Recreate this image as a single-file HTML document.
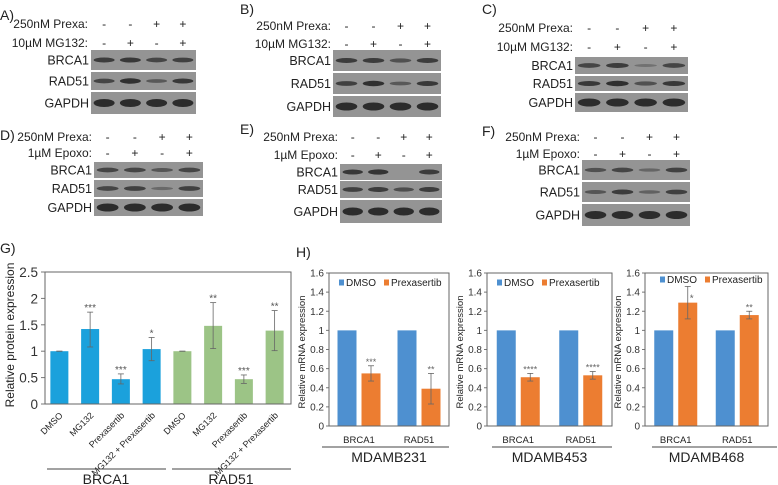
<!DOCTYPE html>
<html><head><meta charset="utf-8"><style>
body{margin:0;background:#fff;}
svg{display:block;font-family:"Liberation Sans",Arial,sans-serif;}
</style></head><body>
<svg id="fig" width="778" height="485" viewBox="0 0 778 485">
<g id="blots"></g>
<g id="gchart"></g>
<g id="hchart"></g>
</svg>
<script>
// ---- Panel G data ----
const gCategories = ["DMSO","MG132","Prexasertib","MG132 + Prexasertib","DMSO","MG132","Prexasertib","MG132 + Prexasertib"];
const gValues = [1, 1.42, 0.47, 1.04, 1, 1.48, 0.47, 1.39];
const gErrHigh = [1.0, 1.74, 0.57, 1.26, 1.0, 1.92, 0.55, 1.77];
const gErrLow = [1.0, 1.08, 0.38, 0.82, 1.0, 1.05, 0.39, 1.01];
const gStars = ["", "***", "***", "*", "", "**", "***", "**"];
const gTicks = [0, 0.5, 1, 1.5, 2, 2.5];
const gTickLabels = ["0","0.5","1","1.5","2","2.5"];
// ---- Panel H data ----
const hLines = ["MDAMB231","MDAMB453","MDAMB468"];
const hGenes = ["BRCA1","RAD51"];
const hSeries = ["DMSO","Prexasertib"];
const hDmso = [[1,1],[1,1],[1,1]];
const hPrex = [[0.55,0.39],[0.51,0.53],[1.29,1.16]];
const hPrexLow = [[0.47,0.23],[0.47,0.49],[1.12,1.12]];
const hPrexHigh = [[0.63,0.55],[0.55,0.57],[1.46,1.20]];
const hStars = [["***","**"],["****","****"],["*","**"]];
const hTicks = [0,0.2,0.4,0.6,0.8,1,1.2,1.4,1.6];
const hTickLabels = ["0","0.2","0.4","0.6","0.8","1","1.2","1.4","1.6"];

const NS="http://www.w3.org/2000/svg";
function mk(parent,tag,attrs,text){const e=document.createElementNS(NS,tag);for(const k in attrs)e.setAttribute(k,attrs[k]);if(text!==undefined)e.textContent=text;parent.appendChild(e);return e;}

// ---- Blots ----
const blots=document.getElementById('blots');
const panels=[
 {L:"A)",lx:0,ly:20,t1:"250nM Prexa:",t2:"10\u00B5M MG132:",ty1:28,ty2:47,tx:88,x0:91,x1:196,rows:[[50,70],[72,90],[92,114]],
  inten:[[.8,.85,.7,.75],[.7,.95,.45,.85],[1,1,1,1]]},
 {L:"B)",lx:240,ly:14,t1:"250nM Prexa:",t2:"10\u00B5M MG132:",ty1:30,ty2:48,tx:331,x0:333,x1:441,rows:[[50,71],[73,94],[96,117]],
  inten:[[.8,.8,.55,.8],[.75,.95,.45,.85],[1,1,1,1]]},
 {L:"C)",lx:482,ly:14,t1:"250nM Prexa:",t2:"10\u00B5M MG132:",ty1:32,ty2:51,tx:573,x0:575,x1:688,rows:[[57,74],[76,91],[93,112]],
  inten:[[.7,.8,.15,.7],[.85,.95,.55,.85],[1,1,1,1]]},
 {L:"D)",lx:0,ly:140,t1:"250nM Prexa:",t2:"1\u00B5M Epoxo:",ty1:141,ty2:157,tx:92,x0:94,x1:203,rows:[[162,178],[180,197],[199,216]],
  inten:[[.7,.7,.5,.7],[.7,.75,.25,.75],[1,1,1,1]]},
 {L:"E)",lx:240,ly:134,t1:"250nM Prexa:",t2:"1\u00B5M Epoxo:",ty1:141,ty2:159,tx:338,x0:340,x1:442,rows:[[164,180],[181,198],[200,223]],
  inten:[[.85,.9,0,.8],[.75,.8,.6,.8],[1,1,1,1]]},
 {L:"F)",lx:482,ly:136,t1:"250nM Prexa:",t2:"1\u00B5M Epoxo:",ty1:141,ty2:158,tx:580,x0:582,x1:690,rows:[[160,180],[182,202],[204,226]],
  inten:[[.55,.7,.3,.75],[.5,.8,.35,.75],[1,1,1,1]]}
];
const prexa=["-","-","+","+"], drug=["-","+","-","+"];
const rowNames=["BRCA1","RAD51","GAPDH"];
panels.forEach((p,pi)=>{
  const g=mk(blots,'g',{});
  
  
  mk(g,'text',{x:p.lx,y:p.ly,'font-size':14,fill:'#222'},p.L);
  mk(g,'text',{x:p.tx,y:p.ty1,'font-size':12,'text-anchor':'end',fill:'#222'},p.t1);
  mk(g,'text',{x:p.tx,y:p.ty2,'font-size':12,'text-anchor':'end',fill:'#222'},p.t2);
  const w=(p.x1-p.x0)/4;
  for(let i=0;i<4;i++){
    const cx=p.x0+w*(i+0.5);
    mk(g,'text',{x:cx,y:p.ty1,'font-size':12,'text-anchor':'middle',fill:'#222'},prexa[i]);
    mk(g,'text',{x:cx,y:p.ty2,'font-size':12,'text-anchor':'middle',fill:'#222'},drug[i]);
  }
  p.rows.forEach((r,ri)=>{
    mk(g,'text',{x:p.x0-2,y:(r[0]+r[1])/2+4.5,'font-size':12.5,'text-anchor':'end',fill:'#222'},rowNames[ri]);
    mk(g,'rect',{x:p.x0,y:r[0],width:p.x1-p.x0,height:r[1]-r[0],fill:'#949494'});
    for(let i=0;i<4;i++){
      const v=p.inten[ri][i]; if(v<=0)continue;
      const cx=p.x0+w*(i+0.5), cy=(r[0]+r[1])/2;
      const ry=ri==2?4:1.2+1.6*v;
      mk(g,'ellipse',{cx:cx,cy:cy,rx:w*0.4,ry:ry,fill:'#262626',opacity:Math.min(1,0.2+0.75*v)});
    }
  });
});

// ---- Panel G ----
const G=document.getElementById('gchart');
mk(G,'text',{x:0,y:253,'font-size':14,fill:'#222'},"G)");
const gx0=45,gx1=291,gy0=404,gy1=272,gmax=2.5;
const gy=v=>gy0-(v/gmax)*(gy0-gy1);
const gBand=(gx1-gx0)/gCategories.length;
const gxc=i=>gx0+gBand*(i+0.5)-1;
gTicks.forEach((t,i)=>{
  mk(G,'line',{x1:gx0-4,x2:gx0,y1:gy(t),y2:gy(t),stroke:'#777'});
  mk(G,'text',{x:gx0-7,y:gy(t)+5,'font-size':13.5,'text-anchor':'end',fill:'#333'},gTickLabels[i]);
});
gValues.forEach((v,i)=>{
  const b=mk(G,'rect',{x:gxc(i)-9,y:gy(v),width:18,height:gy0-gy(v),fill:i<4?'#1ba1dc':'#9cc486'});
  
  
  const cx=gxc(i);
  mk(G,'line',{x1:cx,x2:cx,y1:gy(gErrHigh[i]),y2:gy(gErrLow[i]),stroke:'#666','stroke-width':0.8});
  mk(G,'line',{x1:cx-3,x2:cx+3,y1:gy(gErrHigh[i]),y2:gy(gErrHigh[i]),stroke:'#666','stroke-width':0.8});
  mk(G,'line',{x1:cx-3,x2:cx+3,y1:gy(gErrLow[i]),y2:gy(gErrLow[i]),stroke:'#666','stroke-width':0.8});
  if(gStars[i])mk(G,'text',{x:cx,y:gy(gErrHigh[i])-1,'font-size':10,'text-anchor':'middle',fill:'#555'},gStars[i]);
  mk(G,'text',{x:cx+4,y:gy0+12,'font-size':9,'text-anchor':'end',fill:'#222',transform:`rotate(-45 ${cx+4} ${gy0+12})`},gCategories[i]);
});
mk(G,'rect',{x:gx0,y:gy1,width:gx1-gx0,height:gy0-gy1,fill:'none',stroke:'#666','stroke-width':1});
mk(G,'text',{x:14,y:335,'font-size':12,'text-anchor':'middle',fill:'#222',transform:'rotate(-90 14 335)'},"Relative protein expression");
mk(G,'line',{x1:47,x2:166,y1:469,y2:469,stroke:'#444'});
mk(G,'line',{x1:172,x2:291,y1:469,y2:469,stroke:'#444'});
mk(G,'text',{x:106,y:484,'font-size':14,'text-anchor':'middle',fill:'#222'},"BRCA1");
mk(G,'text',{x:231,y:484,'font-size':14,'text-anchor':'middle',fill:'#222'},"RAD51");

// ---- Panel H ----
const H=document.getElementById('hchart');
mk(H,'text',{x:296,y:257,'font-size':14,fill:'#222'},"H)");
const hBoxes=[{x0:329,x1:449,tl:305,gl:[322,449]},{x0:487,x1:612,tl:463,gl:[492,612]},{x0:645,x1:768,tl:621,gl:[652,777]}];
const hy0=426,hy1=273,hmax=1.6;
const hy=v=>hy0-(v/hmax)*(hy0-hy1);
hLines.forEach((name,ci)=>{
  const bx=hBoxes[ci];
  const g=mk(H,'g',{});
  
  
  hTicks.forEach((t,i)=>{
    mk(g,'line',{x1:bx.x0-3,x2:bx.x0,y1:hy(t),y2:hy(t),stroke:'#777'});
    mk(g,'text',{x:bx.x0-5,y:hy(t)+3.5,'font-size':10,'text-anchor':'end',fill:'#333'},hTickLabels[i]);
  });
  const W=bx.x1-bx.x0, grp=W/2;
  hGenes.forEach((gene,gi)=>{
    const gc=bx.x0+grp*(gi+0.5);
    const dx=gc-12, px=gc+12;
    const d=mk(g,'rect',{x:dx-9.5,y:hy(hDmso[ci][gi]),width:19,height:hy0-hy(hDmso[ci][gi]),fill:'#4e90d0'});
    
    
    const p=mk(g,'rect',{x:px-9.5,y:hy(hPrex[ci][gi]),width:19,height:hy0-hy(hPrex[ci][gi]),fill:'#ec7d31'});
    
    
    const hi=hy(hPrexHigh[ci][gi]),lo=hy(hPrexLow[ci][gi]);
    mk(g,'line',{x1:px,x2:px,y1:hi,y2:lo,stroke:'#666','stroke-width':0.8});
    mk(g,'line',{x1:px-3,x2:px+3,y1:hi,y2:hi,stroke:'#666','stroke-width':0.8});
    mk(g,'line',{x1:px-3,x2:px+3,y1:lo,y2:lo,stroke:'#666','stroke-width':0.8});
    if(hPrexHigh[ci][gi]>1.4){
      mk(g,'text',{x:px+4,y:hy(hPrex[ci][gi])-1,'font-size':10,'text-anchor':'middle',fill:'#666'},hStars[ci][gi]);
    } else {
      mk(g,'text',{x:px,y:hi-1,'font-size':9,'text-anchor':'middle',fill:'#666'},hStars[ci][gi]);
    }
    mk(g,'text',{x:gc,y:hy0+17,'font-size':9.5,'text-anchor':'middle',fill:'#222'},gene);
  });
  mk(g,'rect',{x:bx.x0,y:hy1,width:W,height:hy0-hy1,fill:'none',stroke:'#666','stroke-width':1});
  const ly=ci==2?283:286, lx=bx.x0+(ci==2?15:10);
  mk(g,'rect',{x:lx,y:ly-6.5,width:5,height:6,fill:'#4e90d0'});
  mk(g,'text',{x:lx+7,y:ly,'font-size':10,fill:'#222'},hSeries[0]);
  mk(g,'rect',{x:lx+45,y:ly-6.5,width:5,height:6,fill:'#ec7d31'});
  mk(g,'text',{x:lx+52,y:ly,'font-size':10,fill:'#222'},hSeries[1]);
  const tcy=352;
  mk(g,'text',{x:bx.tl,y:tcy,'font-size':9.5,'text-anchor':'middle',fill:'#222',transform:`rotate(-90 ${bx.tl} ${tcy})`},"Relative mRNA expression");
  mk(g,'line',{x1:bx.gl[0],x2:bx.gl[1],y1:447,y2:447,stroke:'#444'});
  mk(g,'text',{x:(bx.x0+bx.x1)/2,y:462,'font-size':14,'text-anchor':'middle',fill:'#222'},name);
});
</script>
</body></html>
